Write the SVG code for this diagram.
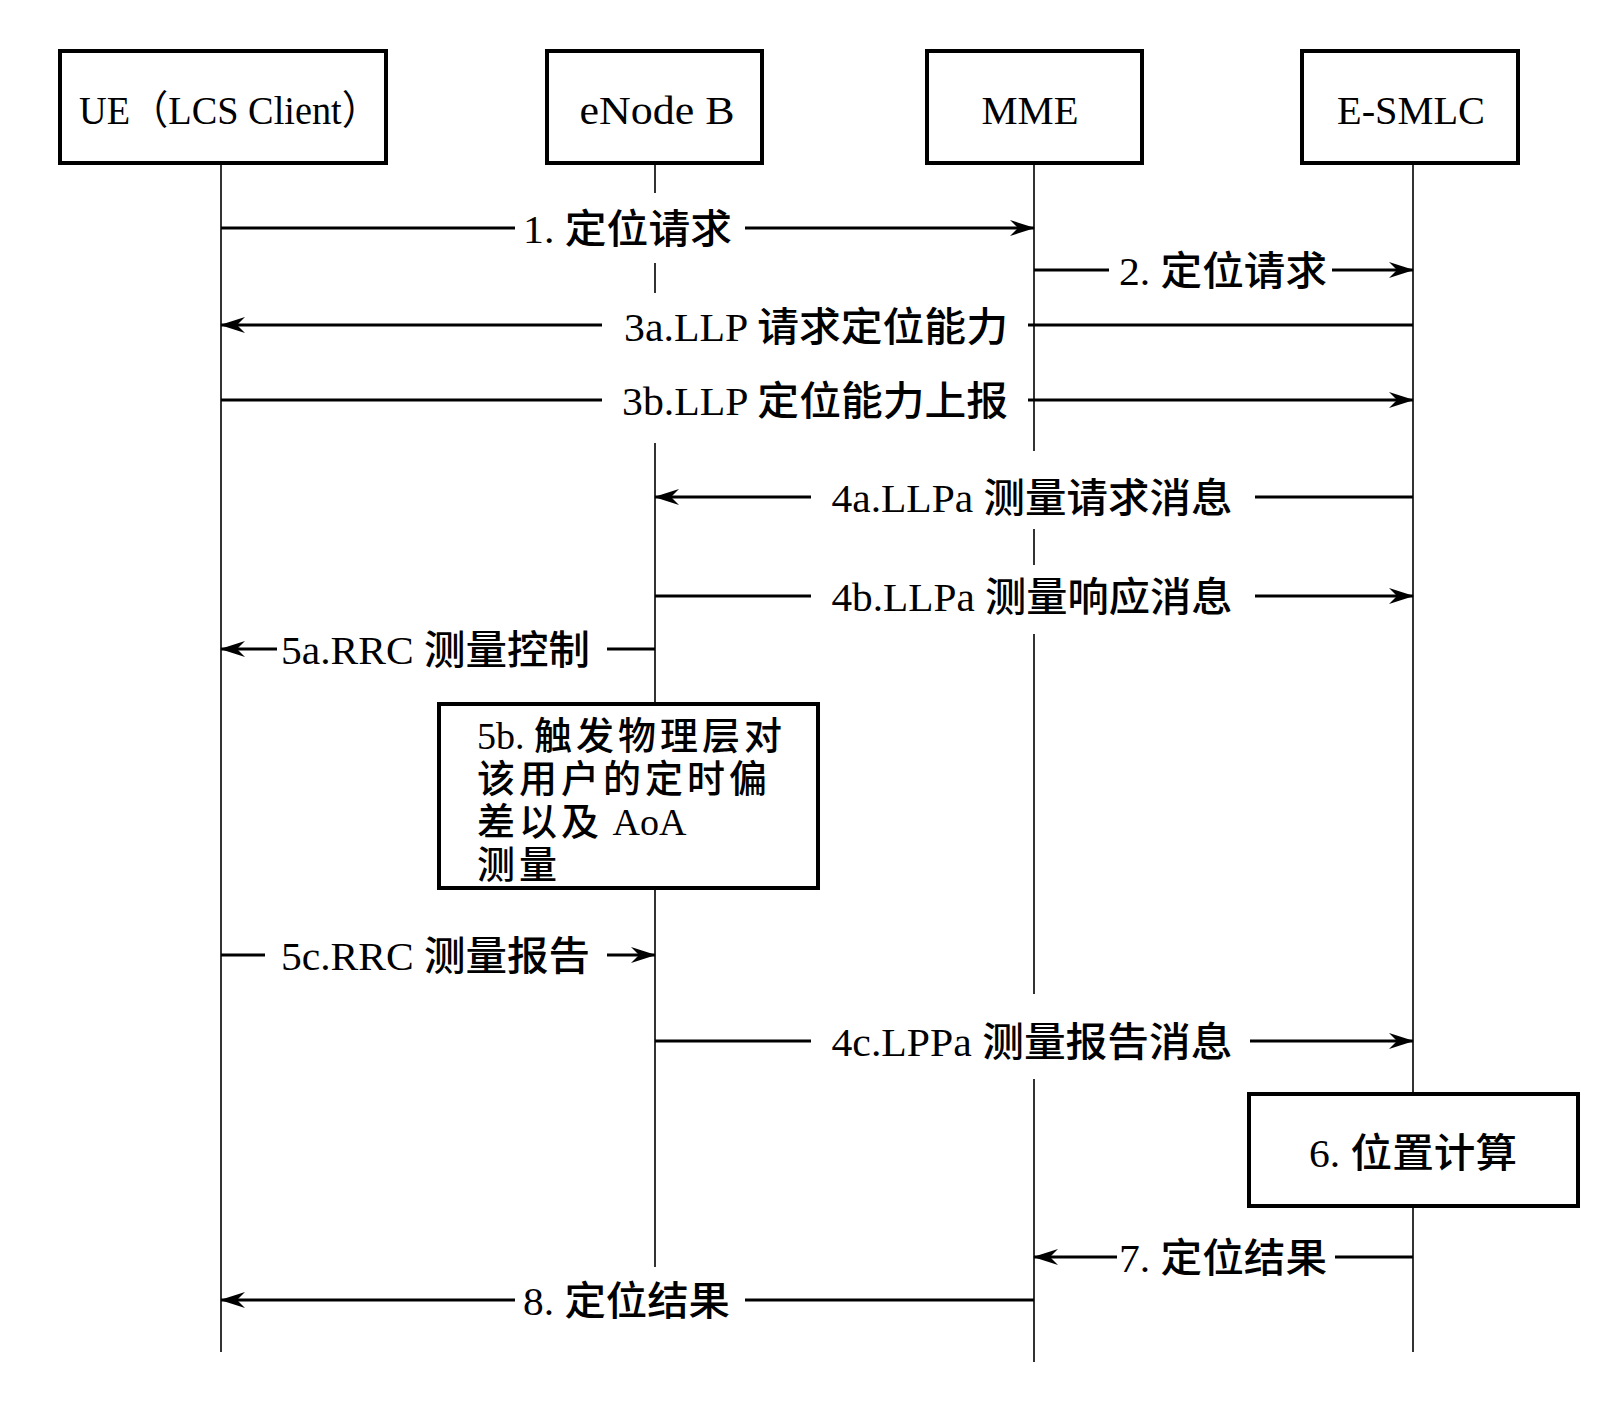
<svg xmlns="http://www.w3.org/2000/svg" width="1600" height="1416" viewBox="0 0 1600 1416">
<style>
  text { font-family: "Liberation Serif", "Noto Sans CJK SC", serif; font-size: 40px; fill: #000; }
  .cj { font-family: "Noto Sans CJK SC", sans-serif; font-weight: 500; }
  .box { fill: #fff; stroke: #000; stroke-width: 4; }
  .life { stroke: #000; stroke-width: 1.6; fill: none; }
  .msg { stroke: #000; stroke-width: 2.8; fill: none; }
  .lbl { text-anchor: middle; }
  .note { font-size: 38px; font-weight: 500; }
  .ls { letter-spacing: 4px; }
</style>
<defs>
  <marker id="arr" viewBox="-26 -9 28 18" refX="0" refY="0" markerWidth="28" markerHeight="18" markerUnits="userSpaceOnUse" orient="auto">
    <path d="M1,0 L-24,-8 L-16,0 L-24,8 Z" fill="#000"/>
  </marker>
</defs>
<rect width="1600" height="1416" fill="#fff"/>

<g id="lifelines">
  <line class="life" x1="221" y1="163" x2="221" y2="1352"/>
  <path class="life" d="M655,163 V193 M655,263 V293 M655,443 V1267"/>
  <path class="life" d="M1034,163 V451 M1034,529 V565 M1034,634 V994 M1034,1079 V1362"/>
  <line class="life" x1="1413" y1="163" x2="1413" y2="1352"/>
</g>

<g id="node-ue">
  <rect class="box" x="60" y="51" width="326" height="112"/>
  <text x="229.5" y="124" class="lbl" textLength="301" lengthAdjust="spacingAndGlyphs">UE（LCS Client）</text>
</g>
<g id="node-enodeb">
  <rect class="box" x="547" y="51" width="215" height="112"/>
  <text x="657" y="124" class="lbl" textLength="155" lengthAdjust="spacingAndGlyphs">eNode  B</text>
</g>
<g id="node-mme">
  <rect class="box" x="927" y="51" width="215" height="112"/>
  <text x="1030" y="124" class="lbl" textLength="97" lengthAdjust="spacingAndGlyphs">MME</text>
</g>
<g id="node-esmlc">
  <rect class="box" x="1302" y="51" width="216" height="112"/>
  <text x="1411" y="124" class="lbl" textLength="148" lengthAdjust="spacingAndGlyphs">E-SMLC</text>
</g>

<g id="node-5b">
  <rect class="box" x="439" y="704" width="379" height="184"/>
  <text class="note" x="477" y="749">5b. <tspan class="ls">触发物理层对</tspan></text>
  <text class="note" x="477" y="792"><tspan class="ls">该用户的定时偏</tspan></text>
  <text class="note" x="477" y="835"><tspan class="ls">差以及</tspan> AoA</text>
  <text class="note" x="477" y="878"><tspan class="ls">测量</tspan></text>
</g>

<g id="node-6">
  <rect class="box" x="1249" y="1094" width="329" height="112"/>
  <text x="1413" y="1167" class="lbl" textLength="208" lengthAdjust="spacingAndGlyphs">6. <tspan class="cj">位置计算</tspan></text>
</g>

<g id="connectors">
  <line class="msg" x1="221" y1="228" x2="515" y2="228"/>
  <line class="msg" x1="745" y1="228" x2="1034" y2="228" marker-end="url(#arr)"/>
  <line class="msg" x1="1034" y1="270" x2="1109" y2="270"/>
  <line class="msg" x1="1332" y1="270" x2="1413" y2="270" marker-end="url(#arr)"/>
  <line class="msg" x1="1413" y1="325" x2="1028" y2="325"/>
  <line class="msg" x1="602" y1="325" x2="221" y2="325" marker-end="url(#arr)"/>
  <line class="msg" x1="221" y1="400" x2="602" y2="400"/>
  <line class="msg" x1="1028" y1="400" x2="1413" y2="400" marker-end="url(#arr)"/>
  <line class="msg" x1="1413" y1="497" x2="1255" y2="497"/>
  <line class="msg" x1="811" y1="497" x2="655" y2="497" marker-end="url(#arr)"/>
  <line class="msg" x1="655" y1="596" x2="811" y2="596"/>
  <line class="msg" x1="1255" y1="596" x2="1413" y2="596" marker-end="url(#arr)"/>
  <line class="msg" x1="655" y1="649" x2="607" y2="649"/>
  <line class="msg" x1="277" y1="649" x2="221" y2="649" marker-end="url(#arr)"/>
  <line class="msg" x1="221" y1="955" x2="265" y2="955"/>
  <line class="msg" x1="607" y1="955" x2="655" y2="955" marker-end="url(#arr)"/>
  <line class="msg" x1="655" y1="1041" x2="811" y2="1041"/>
  <line class="msg" x1="1250" y1="1041" x2="1413" y2="1041" marker-end="url(#arr)"/>
  <line class="msg" x1="1413" y1="1257" x2="1335" y2="1257"/>
  <line class="msg" x1="1117" y1="1257" x2="1034" y2="1257" marker-end="url(#arr)"/>
  <line class="msg" x1="1034" y1="1300" x2="745" y2="1300"/>
  <line class="msg" x1="515" y1="1300" x2="221" y2="1300" marker-end="url(#arr)"/>
</g>

<g id="labels">
  <text class="lbl" x="627.5" y="243" textLength="209" lengthAdjust="spacingAndGlyphs">1. <tspan class="cj">定位请求</tspan></text>
  <text class="lbl" x="1223" y="285" textLength="208" lengthAdjust="spacingAndGlyphs">2. <tspan class="cj">定位请求</tspan></text>
  <text class="lbl" x="816" y="341" textLength="384" lengthAdjust="spacingAndGlyphs">3a.LLP <tspan class="cj">请求定位能力</tspan></text>
  <text class="lbl" x="815" y="415" textLength="386" lengthAdjust="spacingAndGlyphs">3b.LLP <tspan class="cj">定位能力上报</tspan></text>
  <text class="lbl" x="1032" y="512" textLength="401" lengthAdjust="spacingAndGlyphs">4a.LLPa <tspan class="cj">测量请求消息</tspan></text>
  <text class="lbl" x="1032" y="611" textLength="401" lengthAdjust="spacingAndGlyphs">4b.LLPa <tspan class="cj">测量响应消息</tspan></text>
  <text class="lbl" x="435.5" y="664" textLength="309" lengthAdjust="spacingAndGlyphs">5a.RRC <tspan class="cj">测量控制</tspan></text>
  <text class="lbl" x="435.5" y="970" textLength="309" lengthAdjust="spacingAndGlyphs">5c.RRC <tspan class="cj">测量报告</tspan></text>
  <text class="lbl" x="1032" y="1056" textLength="401" lengthAdjust="spacingAndGlyphs">4c.LPPa <tspan class="cj">测量报告消息</tspan></text>
  <text class="lbl" x="1223" y="1272" textLength="208" lengthAdjust="spacingAndGlyphs">7. <tspan class="cj">定位结果</tspan></text>
  <text class="lbl" x="626.5" y="1315" textLength="207" lengthAdjust="spacingAndGlyphs">8. <tspan class="cj">定位结果</tspan></text>
</g>
</svg>
